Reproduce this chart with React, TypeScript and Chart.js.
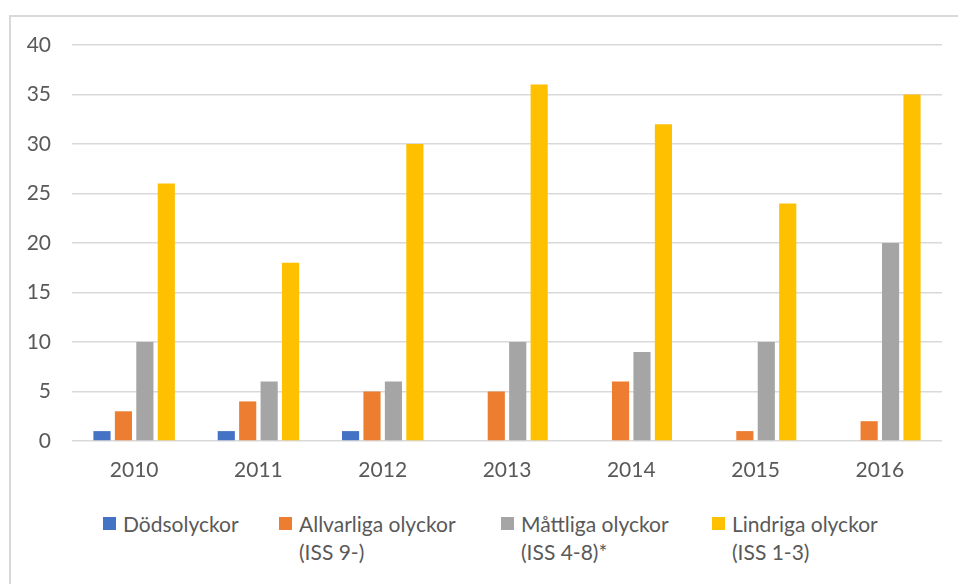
import React, { useEffect, useRef } from "react";
import { Chart, registerables } from "chart.js";

Chart.register(...registerables);

const years = ["2010", "2011", "2012", "2013", "2014", "2015", "2016"];
const dodsolyckor = [1, 1, 1, 0, 0, 0, 0];
const allvarliga = [3, 4, 5, 5, 6, 1, 2];
const mattliga = [10, 6, 6, 10, 9, 10, 20];
const lindriga = [26, 18, 30, 36, 32, 24, 35];
const seriesLabels = [
  ["Dödsolyckor"],
  ["Allvarliga olyckor", "(ISS 9-)"],
  ["Måttliga olyckor", "(ISS 4-8)*"],
  ["Lindriga olyckor", "(ISS 1-3)"],
];
const seriesColors = ["#4472C4", "#ED7D31", "#A5A5A5", "#FFC000"];
const yTicks = [0, 5, 10, 15, 20, 25, 30, 35, 40];

const FONT = "Lato, 'Open Sans', sans-serif";
const TEXT = "#595959";

export default function App() {
  const ref = useRef<HTMLCanvasElement | null>(null);

  useEffect(() => {
    const values = [dodsolyckor, allvarliga, mattliga, lindriga];
    const chart = new Chart(ref.current!, {
      type: "bar",
      data: {
        labels: years,
        datasets: values.map((v, i) => ({
          label: seriesLabels[i].join(" "),
          data: v,
          backgroundColor: seriesColors[i],
          borderWidth: 0,
          categoryPercentage: 0.69,
          barPercentage: 0.8,
        })),
      },
      options: {
        responsive: false,
        animation: false,
        layout: { padding: { left: 0, right: 16, top: 45, bottom: 19 } },
        plugins: { legend: { display: false }, tooltip: { enabled: false } },
        scales: {
          x: {
            grid: { display: false, drawTicks: false },
            border: { display: false },
            ticks: { color: TEXT, font: { family: FONT, size: 21 }, padding: 17 },
            afterFit: (s: any) => {
              s.height = 40;
            },
          },
          y: {
            min: 0,
            max: 40,
            afterBuildTicks: (s: any) => {
              s.ticks = yTicks.map((v) => ({ value: v }));
            },
            grid: { color: "#d9d9d9", lineWidth: 1.5, drawTicks: false },
            border: { display: false },
            ticks: { color: TEXT, font: { family: FONT, size: 21 }, padding: 21 },
            afterFit: (s: any) => {
              s.width = 72;
            },
          },
        },
      },
    });
    return () => chart.destroy();
  }, []);

  const legendLefts = [103, 279, 501, 712];

  return (
    <div
      style={{
        position: "fixed",
        left: 0,
        top: 0,
        width: 958,
        height: 584,
        overflow: "hidden",
        background: "#fff",
      }}
    >
      <div
        style={{
          position: "absolute",
          left: 9,
          top: 15,
          width: 2000,
          height: 2000,
          borderLeft: "2px solid #d9d9d9",
          borderTop: "2px solid #d9d9d9",
        }}
      />
      <canvas
        ref={ref}
        width={958}
        height={500}
        style={{ position: "absolute", left: 0, top: 0 }}
      />
      {seriesLabels.map((lines, i) => (
        <div
          key={i}
          style={{
            position: "absolute",
            left: legendLefts[i],
            top: 510,
            fontFamily: FONT,
            fontSize: 21,
            lineHeight: "28px",
            color: TEXT,
            whiteSpace: "nowrap",
          }}
        >
          <span
            style={{
              position: "absolute",
              left: 0,
              top: 7,
              width: 13,
              height: 13,
              background: seriesColors[i],
            }}
          />
          <div style={{ marginLeft: 20 }}>
            {lines.map((l, j) => (
              <div key={j}>{l}</div>
            ))}
          </div>
        </div>
      ))}
    </div>
  );
}
